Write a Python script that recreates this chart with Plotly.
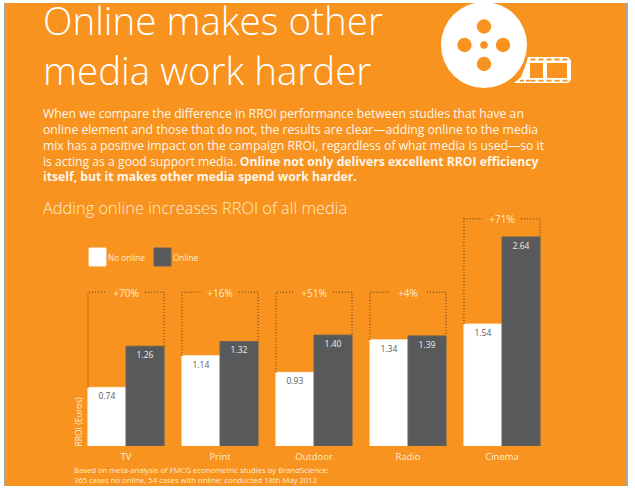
import plotly.graph_objects as go

categories = ["TV", "Print", "Outdoor", "Radio", "Cinema"]
no_online = [0.74, 1.14, 0.93, 1.34, 1.54]
online = [1.26, 1.32, 1.40, 1.39, 2.64]
uplift = ["+70%", "+16%", "+51%", "+4%", "+71%"]
bracket_top = [1.94, 1.94, 1.94, 1.94, 2.87]
title_lines = ["Online makes other", "media work harder"]
body_lines = [
    "When we compare the difference in RROI performance between studies that have an",
    "online element and those that do not, the results are clear\u2014adding online to the media",
    "mix has a positive impact on the campaign RROI, regardless of what media is used\u2014so it",
    "is acting as a good support media. <b>Online not only delivers excellent RROI efficiency</b>",
    "<b>itself, but it makes other media spend work harder.</b>",
]
subtitle = "Adding online increases RROI of all media"
foot_lines = [
    "Based on meta-analysis of FMCG econometric studies by BrandScience:",
    "365 cases no online, 54 cases with online; conducted 18th May 2012",
]

W, H = 635, 495
L, R, T, B = 79, 86, 208, 49
ORANGE = "#F7931E"
DARK = "#58595B"
PALE = "#FFEBD0"
DOT = "#85591F"
FONT = "Open Sans"


def px(x):
    return (x - L) / (W - L - R)


def py(y):
    return (H - B - y) / (H - T - B)


def rect(x0, y0, x1, y1, fill, line=None):
    return dict(type="rect", xref="paper", yref="paper", x0=px(x0), x1=px(x1), y0=py(y0), y1=py(y1),
                fillcolor=fill, line=dict(width=1 if line else 0, color=line or fill), layer="below")


def circle(cx, cy, r, fill):
    return dict(type="circle", xref="paper", yref="paper", x0=px(cx - r), x1=px(cx + r), y0=py(cy - r), y1=py(cy + r),
                fillcolor=fill, line=dict(width=0), layer="below")


def path(points, fill):
    d = "M " + " L ".join(f"{px(a):.5f},{py(b):.5f}" for a, b in points) + " Z"
    return dict(type="path", xref="paper", yref="paper", path=d, fillcolor=fill, line=dict(width=0), layer="below")


def text(x, y, s, size, color="#FFFFFF", anchor="left", angle=0, weight=None):
    return dict(xref="paper", yref="paper", x=px(x), y=py(y), text=s, showarrow=False, xanchor=anchor, yanchor="middle",
                align="left", textangle=angle, font=dict(family=FONT, size=size, color=color, weight=weight))


xs = list(range(len(categories)))
fig = go.Figure()
fig.add_bar(x=xs, y=no_online, name="No online", marker=dict(color="#FFFFFF", line=dict(color="#FFF3E3", width=1)),
            text=[f"{v:.2f}" for v in no_online], textposition="inside", insidetextanchor="end", textangle=0,
            textfont=dict(family=FONT, size=8.5, color=DARK), constraintext="none", cliponaxis=False)
fig.add_bar(x=xs, y=online, name="Online", marker=dict(color=DARK, line=dict(color="#6B6258", width=1)),
            text=[f"{v:.2f}" for v in online], textposition="inside", insidetextanchor="end", textangle=0,
            textfont=dict(family=FONT, size=8.5, color="#F1EEEA"), constraintext="none", cliponaxis=False)

half = 0.405
for i, top in enumerate(bracket_top):
    gap_l = 0.21 if len(uplift[i]) > 3 else 0.19
    gap_r = 0.2
    fig.add_scatter(x=[i - half, i - half, i - gap_l, None, i + gap_r, i + half, i + half],
                    y=[no_online[i], top, top, None, top, top, online[i]],
                    mode="lines", line=dict(color=DOT, width=1.5, dash="1px 2px"), hoverinfo="skip", showlegend=False)
    fig.add_scatter(x=[i], y=[top - 0.025], mode="text", text=[uplift[i]], textposition="middle center",
                    textfont=dict(family=FONT, size=10, color=PALE), hoverinfo="skip", showlegend=False)

shapes = [
    rect(4, 3, 628, 486, "#A8A8A8"),
    rect(5, 3, 626, 486, ORANGE),
    circle(484, 45, 43, "#FFFFFF"),
    circle(484, 26.5, 7.2, ORANGE), circle(484, 64, 7.2, ORANGE),
    circle(464.5, 45, 7.2, ORANGE), circle(503, 45, 7.2, ORANGE), circle(484, 45, 3.8, ORANGE),
    path([(528, 57), (568, 57), (571, 60), (571, 80), (568, 83), (514, 83), (521, 77), (526, 64)], "#FFFFFF"),
    rect(530, 63, 543, 78, ORANGE), rect(547, 63, 567, 78, ORANGE),
    rect(89, 248, 106, 266, "#FFFFFF", "#FFF3E3"),
    rect(154, 248, 171, 266, DARK, "#6B6258"),
]
for hx in [533, 541, 549, 557, 565]:
    shapes.append(rect(hx - 2.5, 58.5, hx + 2.5, 60.5, ORANGE))
    shapes.append(rect(hx - 2.5, 79.8, hx + 2.5, 81.6, ORANGE))
for hx in [522, 528]:
    shapes.append(rect(hx - 2, 79.8, hx + 2, 81.6, ORANGE))

ann = [text(41, 44.5, "<br>".join(title_lines), 38.5, weight=300)]
ann.append(text(41, 145, "<br>".join(body_lines), 12.2, "#FFF6EA"))
ann.append(text(41, 207, subtitle, 16.4, PALE, weight=300))
ann.append(text(106, 257, "No online", 8.2, PALE))
ann.append(text(170.5, 257, "Online", 8.2, PALE))
ann.append(text(78, 421.5, "RROI (Euros)", 8.5, PALE, anchor="center", angle=-90))
ann.append(text(71.5, 474.5, "<br>".join(foot_lines), 7.7, PALE))

fig.update_layout(
    width=W, height=H, margin=dict(l=L, r=R, t=T, b=B), paper_bgcolor="#FFFFFF", plot_bgcolor="rgba(0,0,0,0)",
    barmode="group", bargap=0.19, bargroupgap=0, showlegend=False, shapes=shapes, annotations=ann,
    xaxis=dict(range=[-0.5, 4.5], tickmode="array", tickvals=xs, ticktext=categories, showgrid=False, zeroline=False,
               showline=False, ticks="", ticklabelstandoff=3, tickfont=dict(family=FONT, size=9.5, color=PALE)),
    yaxis=dict(range=[0, 3.005], visible=False, fixedrange=True),
)
fig.write_html("out.html", post_script="document.body.style.margin='0';", config={"displayModeBar": False})
